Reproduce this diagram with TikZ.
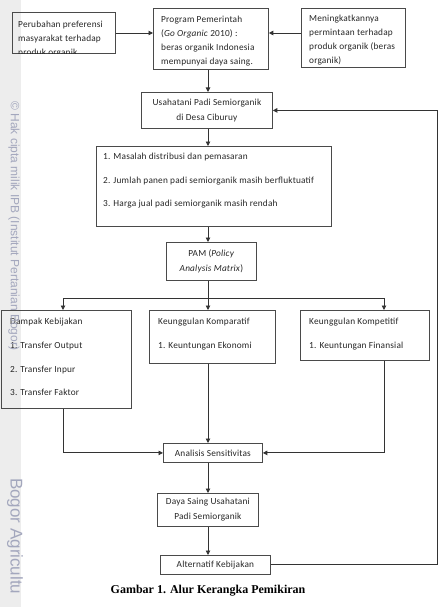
\documentclass[tikz,border=0pt]{standalone}
\usepackage{fontspec}
\setmainfont{Liberation Serif}
\newfontfamily\boxfont[LetterSpace=2]{Carlito}
\newfontfamily\wmfont{Liberation Sans}
\usetikzlibrary{arrows.meta}
\definecolor{boxc}{HTML}{4A4A4A}
\definecolor{linec}{HTML}{333333}
\definecolor{wmband}{HTML}{EDEDED}
\definecolor{wmtext}{HTML}{A3A7BD}
\begin{document}
\begin{tikzpicture}[x=1pt,y=-1pt,
  box/.style={draw=boxc, line width=0.8pt, inner sep=0pt, anchor=north west},
  txt/.style={font=\boxfont\fontsize{9.3}{14}\selectfont, inner sep=0pt, align=left, text=black!85},
  ctxt/.style={font=\boxfont\fontsize{9.3}{15}\selectfont, align=center, text=black!85},
  conn/.style={draw=linec, line width=0.9pt},
  arr/.style={conn, -{Triangle[length=4.5pt,width=4.5pt]}},
  wm/.style={font=\wmfont, text=wmtext, rotate=-90, anchor=west, inner sep=0pt}]
\useasboundingbox (0,0) rectangle (440,607);
\fill[wmband] (0,0) rectangle (21,607);
% guide coordinates
\coordinate (spine) at (208,0);
\coordinate (xl) at (63,0);
\coordinate (xr) at (384,0);
\coordinate (fb) at (437,0);
\coordinate (br) at (208,298);
% top row
\node[box, minimum width=103pt, minimum height=41pt] (pref) at (12,12) {};
\node[box, minimum width=115pt, minimum height=61pt] (prog) at (153,8) {};
\node[box, minimum width=104pt, minimum height=59pt] (mening) at (301,8) {};
\begin{scope}
\clip (pref.north west) rectangle (pref.south east);
\node[txt, anchor=north west] at ([xshift=6pt,yshift=-9pt]pref.north west)
  {Perubahan preferensi\\masyarakat terhadap\\produk organik};
\end{scope}
\begin{scope}
\clip (prog.north west) rectangle (prog.south east);
\node[txt, anchor=north west] at ([xshift=8pt,yshift=-8pt]prog.north west)
  {Program Pemerintah\\(\textit{Go Organic} 2010) :\\beras organik Indonesia\\mempunyai daya saing.};
\end{scope}
\begin{scope}
\clip (mening.north west) rectangle (mening.south east);
\node[txt, anchor=north west] at ([xshift=8pt,yshift=-7pt]mening.north west)
  {Meningkatkannya\\permintaan terhadap\\produk organik (beras\\organik)};
\end{scope}
% middle chain
\node[box, minimum width=131pt, minimum height=36pt] (usaha) at (141,92) {};
\node[ctxt] at (usaha.center) {Usahatani Padi Semiorganik\\di Desa Ciburuy};
\node[box, minimum width=235pt, minimum height=80pt] (masalah) at (96,146) {};
\node[txt, anchor=north west, font=\boxfont\fontsize{9.3}{23.5}\selectfont] at ([xshift=7pt,yshift=-7pt]masalah.north west)
  {1. Masalah distribusi dan pemasaran\\2. Jumlah panen padi semiorganik masih berfluktuatif\\3. Harga jual padi semiorganik masih rendah};
\node[box, minimum width=90pt, minimum height=38pt] (pam) at (166,242) {};
\node[ctxt] at (pam.center) {PAM (\textit{Policy}\\\textit{Analysis Matrix})};
% three analysis boxes
\node[box, minimum width=130pt, minimum height=98pt] (dampak) at (1,310) {};
\node[txt, anchor=north west, font=\boxfont\fontsize{9.3}{23.7}\selectfont] at ([xshift=9pt,yshift=-8pt]dampak.north west)
  {Dampak Kebijakan\\1. Transfer Output\\2. Transfer Inpur\\3. Transfer Faktor};
\node[box, minimum width=126pt, minimum height=53pt] (kompar) at (149,310) {};
\node[txt, anchor=north west, font=\boxfont\fontsize{9.3}{23.7}\selectfont] at ([xshift=9pt,yshift=-8pt]kompar.north west)
  {Keunggulan Komparatif\\1. Keuntungan Ekonomi};
\node[box, minimum width=129pt, minimum height=50pt] (kompet) at (300,310) {};
\node[txt, anchor=north west, font=\boxfont\fontsize{9.3}{23.7}\selectfont] at ([xshift=9pt,yshift=-8pt]kompet.north west)
  {Keunggulan Kompetitif\\1. Keuntungan Finansial};
% bottom chain
\node[box, minimum width=99pt, minimum height=19pt] (anal) at (163,443) {};
\node[ctxt] at (anal.center) {Analisis Sensitivitas};
\node[box, minimum width=101pt, minimum height=33pt] (daya) at (157,493) {};
\node[ctxt] at (daya.center) {Daya Saing Usahatani\\Padi Semiorganik};
\node[box, minimum width=110pt, minimum height=19pt] (alt) at (160,555) {};
\node[ctxt] at (alt.center) {Alternatif Kebijakan};
% connectors
\draw[arr] (pref.east |- 0,33) -- (prog.west |- 0,33);
\draw[arr] (mening.west |- 0,33) -- (prog.east |- 0,33);
\draw[arr] (prog.south -| spine) -- (usaha.north -| spine);
\draw[arr] (usaha.south -| spine) -- (masalah.north -| spine);
\draw[arr] (masalah.south -| spine) -- (pam.north -| spine);
\draw[conn] (pam.south -| spine) -- (br);
\draw[conn] (br -| xl) -- (br -| xr);
\draw[arr] (br -| xl) -- (dampak.north -| xl);
\draw[arr] (br) -- (kompar.north -| spine);
\draw[arr] (br -| xr) -- (kompet.north -| xr);
\draw[arr] (dampak.south -| xl) |- (anal.west);
\draw[arr] (kompar.south -| spine) -- (anal.north -| spine);
\draw[arr] (kompet.south -| xr) |- (anal.east);
\draw[arr] (anal.south -| spine) -- (daya.north -| spine);
\draw[arr] (daya.south -| spine) -- (alt.north -| spine);
\draw[arr] (alt.east) -| (fb |- usaha.east) -- (usaha.east);
% caption
\node[font=\bfseries\fontsize{12}{14}\selectfont] (cap) at (208,591) {Gambar 1. Alur Kerangka Pemikiran};
% watermark
\node[wm, font=\wmfont\fontsize{12}{14}\selectfont] (wm1) at (14,101) {\textcopyright\ Hak cipta milik IPB (Institut Pertanian Bogor)};
\node[wm, font=\wmfont\fontsize{17}{20}\selectfont] (wm2) at (15,478) {Bogor Agricultu};
\end{tikzpicture}
\end{document}
